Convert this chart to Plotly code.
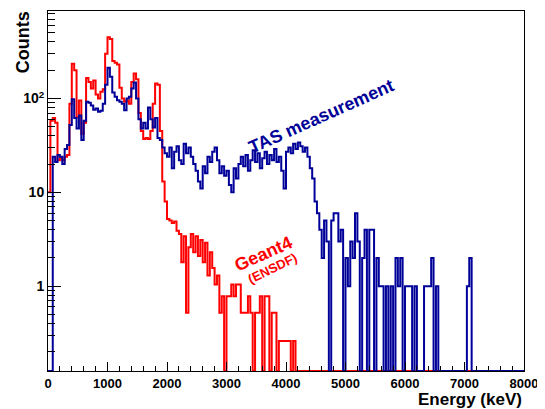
import plotly.graph_objects as go

# ---- data (40 keV bins from 0 to 8000 keV) ----
bin_width = 40
n_bins = 200

tas_counts = [
    0, 0, 24, 21, 25, 24, 20, 29, 32, 52,
    98, 62, 48, 66, 36, 58, 92, 90, 84, 76,
    78, 72, 74, 88, 140, 212, 170, 116, 104, 96,
    92, 88, 75, 100, 104, 128, 148, 100, 60, 48,
    55, 48, 80, 60, 49, 62, 38, 36, 30, 26,
    24, 30, 18, 27, 31, 22, 20, 33, 26, 30,
    24, 20, 17, 13, 11, 19, 16, 24, 21, 27,
    30, 22, 16, 19, 15, 17, 12, 10, 18, 14,
    20, 24, 19, 25, 17, 22, 28, 21, 26, 18,
    23, 27, 20, 25, 22, 29, 21, 24, 17, 11,
    27, 30, 26, 33, 29, 34, 31, 27, 30, 24,
    18, 14, 8, 6, 4, 2, 5, 3, 0, 5,
    6, 6, 3, 4, 0, 2, 1, 3, 2, 6,
    3, 0, 2, 4, 0, 4, 4, 0, 2, 1,
    1, 0, 1, 0, 1, 0, 2, 1, 2, 0,
    1, 1, 1, 0, 1, 0, 0, 0, 1, 1,
    1, 2, 0, 1, 0, 0, 0, 0, 0, 0,
    0, 0, 0, 0, 0, 0, 1, 2, 0, 0,
] + [0] * 20

geant4_counts = [
    10, 58, 62, 55, 22, 23, 22, 24, 25, 88,
    235, 200, 63, 95, 42, 55, 165, 150, 128, 155,
    110, 100, 118, 125, 300, 450, 430, 250, 240, 230,
    130, 100, 92, 95, 88, 150, 185, 160, 70, 45,
    37, 38, 37, 45, 88, 144, 140, 45, 13, 8,
    5.2, 5.0, 4.7, 4.9, 3.9, 3.6, 1.8, 3.4, 0.52, 2.6,
    3.6, 2.3, 3.4, 2.1, 3.1, 1.8, 2.9, 1.3, 2.3, 1.56,
    1.04, 1.3, 0.52, 0.78, 0, 0.78, 0.78, 1.04, 0.78, 1.04,
    1.04, 0.52, 0.52, 0.52, 0.78, 0.52, 0, 0.52, 0.52, 0.78,
    0, 0.78, 0.78, 0, 0.52, 0.52, 0, 0.26, 0.26, 0.26,
    0.26, 0.26, 0, 0.26,
] + [0] * 96

x_tick_vals = [0, 1000, 2000, 3000, 4000, 5000, 6000, 7000, 8000]
x_tick_text = ["0", "1000", "2000", "3000", "4000", "5000", "6000", "7000", "8000"]
y_tick_vals = [1, 10, 100]
y_tick_text = ["1", "10", "10<sup>2</sup>"]

# ---- styling / layout ----
Y_LOG_MIN, Y_LOG_MAX = -0.904, 2.932
floor = 10 ** Y_LOG_MIN
BLUE = "#000099"
RED = "#ff0000"
FONT = "Liberation Sans"

edges = [i * bin_width for i in range(n_bins + 1)]


def step_y(vals):
    v = [c if c > 0 else floor for c in vals]
    return v + [v[-1]]


fig = go.Figure()
fig.add_trace(go.Scatter(x=edges, y=step_y(geant4_counts), mode="lines",
                         line=dict(color=RED, width=2, shape="hv"),
                         name="Geant4 (ENSDF)", showlegend=False))
fig.add_trace(go.Scatter(x=edges, y=step_y(tas_counts), mode="lines",
                         line=dict(color=BLUE, width=2, shape="hv"),
                         name="TAS measurement", showlegend=False))

minor_y = [m * 10 ** d for d in range(-1, 3) for m in range(2, 10)]

# the page adds an 8 px body margin, so the margins are shifted to compensate
fig.update_layout(
    width=545, height=409,
    margin=dict(l=40, r=29, t=3, b=46, autoexpand=False),
    paper_bgcolor="white", plot_bgcolor="white",
    font=dict(family=FONT, color="black"),
    xaxis=dict(
        range=[0, 8000], showgrid=False, zeroline=False, automargin=False,
        showline=True, mirror=True, linecolor="black", linewidth=1,
        tickmode="array", tickvals=x_tick_vals, ticktext=x_tick_text,
        ticks="inside", ticklen=9, tickcolor="black", tickwidth=1,
        tickfont=dict(family=FONT, size=13, color="black", weight="bold"),
        minor=dict(dtick=200, ticks="inside", ticklen=5, tickcolor="black", showgrid=False),
    ),
    yaxis=dict(
        type="log", range=[Y_LOG_MIN, Y_LOG_MAX], showgrid=False, zeroline=False,
        automargin=False,
        showline=True, mirror=True, linecolor="black", linewidth=1,
        tickmode="array", tickvals=y_tick_vals, ticktext=y_tick_text,
        ticks="inside", ticklen=13, tickcolor="black", tickwidth=1,
        tickfont=dict(family=FONT, size=14, color="black", weight="bold"),
        minor=dict(tickmode="array", tickvals=minor_y, ticks="inside", ticklen=7,
                   tickcolor="black", showgrid=False),
    ),
    annotations=[
        dict(text="Counts", xref="paper", yref="paper", x=-0.0525, y=0.913,
             textangle=-90, showarrow=False, xanchor="center", yanchor="middle",
             font=dict(family=FONT, size=18, color="black", weight="bold")),
        dict(text="Energy (keV)", xref="paper", yref="paper", x=0.998, y=-0.1055,
             showarrow=False, xanchor="right", yanchor="bottom", borderpad=0,
             height=17, valign="middle",
             font=dict(family=FONT, size=17, color="black", weight="bold")),
        dict(text="TAS measurement", xref="paper", yref="paper", x=0.5756, y=0.7077,
             textangle=-24, showarrow=False, xanchor="center", yanchor="middle",
             font=dict(family=FONT, size=18, color=BLUE, weight="bold")),
        dict(text="Geant4", xref="paper", yref="paper", x=0.4517, y=0.3247,
             textangle=-24, showarrow=False, xanchor="center", yanchor="middle",
             font=dict(family=FONT, size=18, color=RED, weight="bold")),
        dict(text="(ENSDF)", xref="paper", yref="paper", x=0.4706, y=0.2859,
             textangle=-26, showarrow=False, xanchor="center", yanchor="middle",
             font=dict(family=FONT, size=13, color=RED, weight="bold")),
    ],
)

fig.write_html("out.html")
